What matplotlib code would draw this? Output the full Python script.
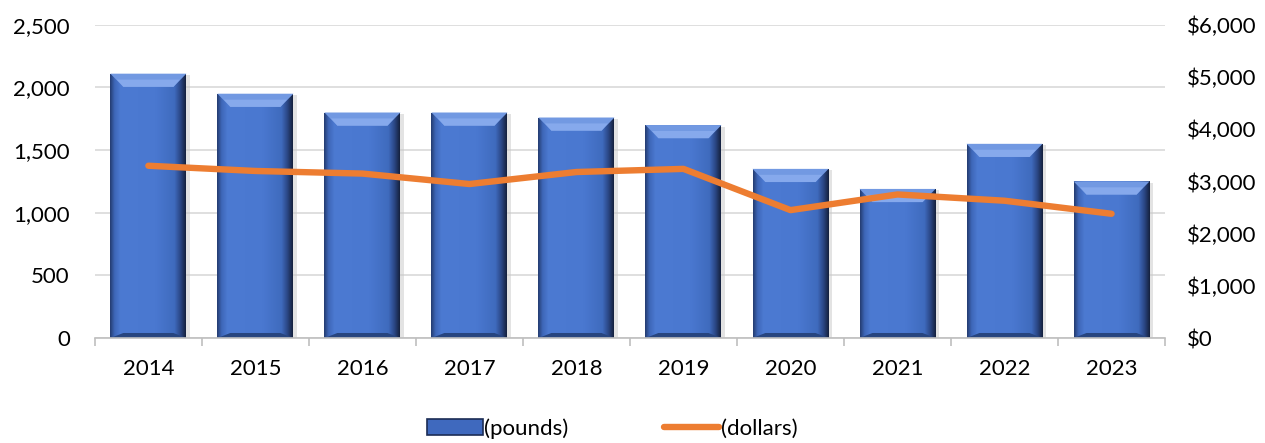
import numpy as np
import matplotlib.pyplot as plt
from matplotlib.patches import Polygon, Patch
from matplotlib.lines import Line2D
from matplotlib.colors import LinearSegmentedColormap

years = ["2014", "2015", "2016", "2017", "2018", "2019", "2020", "2021", "2022", "2023"]
pounds = [2110, 1950, 1800, 1800, 1760, 1700, 1350, 1190, 1550, 1250]
dollars = [3300, 3200, 3150, 2950, 3180, 3240, 2450, 2750, 2630, 2380]

plt.rcParams["font.family"] = ["Lato", "DejaVu Sans"]

fig = plt.figure(figsize=(12.65, 4.43), dpi=100)
ax = fig.add_axes([0.075, 0.237, 0.846, 0.707])
ax2 = ax.twinx()

x = np.arange(len(years))
width = 0.71

# ==========================
# BARS (bevelled gradient)
# ==========================

bars = ax.bar(x, pounds, width=width, color="#4A76CC", zorder=2)

cmap = LinearSegmentedColormap.from_list(
    "bevel",
    [(0.0, "#243C70"), (0.06, "#3E67B8"), (0.14, "#4C7AD2"),
     (0.6, "#4A78D0"), (0.85, "#3F6BBE"), (0.93, "#2A4684"), (1.0, "#15213D")]
)
grad = np.linspace(0, 1, 256).reshape(1, -1)

for rect in bars:
    bx, by = rect.get_x(), rect.get_y()
    bw, bh = rect.get_width(), rect.get_height()

    # soft shadow to the right
    ax.bar(bx + bw / 2 + 0.03, bh, width=bw, bottom=by - 12,
           color="#C8C8C8", alpha=0.5, zorder=1.5)

    im = ax.imshow(grad, extent=[bx, bx + bw, by, by + bh],
                   aspect="auto", cmap=cmap, zorder=2.1)
    im.set_clip_path(rect)

    # top bevel
    dy = 105
    dx = bw * 0.17
    top = by + bh
    ax.add_patch(Polygon(
        [[bx, top], [bx + bw, top], [bx + bw - dx, top - dy], [bx + dx, top - dy]],
        closed=True, facecolor="#7299E2", edgecolor="none", zorder=2.2))
    ax.add_patch(Polygon(
        [[bx + dx * 0.5, top - dy * 0.45], [bx + bw - dx * 0.5, top - dy * 0.45],
         [bx + bw - dx, top - dy], [bx + dx, top - dy]],
        closed=True, facecolor="#86A9EC", edgecolor="none", zorder=2.3))
    # bottom bevel
    ax.add_patch(Polygon(
        [[bx, by], [bx + bw, by], [bx + bw - dx, by + 40], [bx + dx, by + 40]],
        closed=True, facecolor="#27457F", edgecolor="none", zorder=2.2))

ax.set_xlim(-0.5, len(years) - 0.5)
ax.set_ylim(0, 2500)
ax.set_yticks(np.arange(0, 2501, 500))
ax.set_yticklabels([f"{v:,}" for v in range(0, 2501, 500)])
ax.yaxis.grid(True, color="#D9D9D9", linewidth=1.2, zorder=0)
ax.set_axisbelow(True)

ax.set_xticks(x)
ax.set_xticklabels(years)
ax.set_xticks(np.arange(-0.5, len(years), 1), minor=True)
ax.tick_params(axis="x", which="major", length=0, pad=15, labelsize=16)
ax.tick_params(axis="x", which="minor", length=6, color="#BFBFBF", width=1.2)
ax.tick_params(axis="y", length=0, pad=18, labelsize=16)

for side in ["top", "left", "right"]:
    ax.spines[side].set_visible(False)
    ax2.spines[side].set_visible(False)
ax2.spines["bottom"].set_visible(False)
ax.spines["bottom"].set_color("#BFBFBF")
ax.spines["bottom"].set_linewidth(1.2)

# ==========================
# LINE
# ==========================

ax2.plot(x, dollars, color="#ED7D31", linewidth=4.6,
         solid_capstyle="round", solid_joinstyle="round", zorder=5)
ax2.set_ylim(0, 6000)
ax2.set_yticks(np.arange(0, 6001, 1000))
ax2.set_yticklabels([f"${v:,}" for v in range(0, 6001, 1000)])
ax2.tick_params(axis="y", length=0, pad=16, labelsize=16)

# ==========================
# LEGEND
# ==========================

handles = [
    Patch(facecolor="#3F69BE", edgecolor="#1B2C55", linewidth=1.2),
    Line2D([0], [0], color="#ED7D31", linewidth=4.6, solid_capstyle="round"),
]
fig.legend(handles, ["(pounds)", "(dollars)"], loc="lower center",
           bbox_to_anchor=(0.484, -0.035), ncol=2, frameon=False,
           fontsize=16, handlelength=2.5, handleheight=0.75,
           handletextpad=0.05, columnspacing=4.3)

fig.savefig("out.png", dpi=100)
